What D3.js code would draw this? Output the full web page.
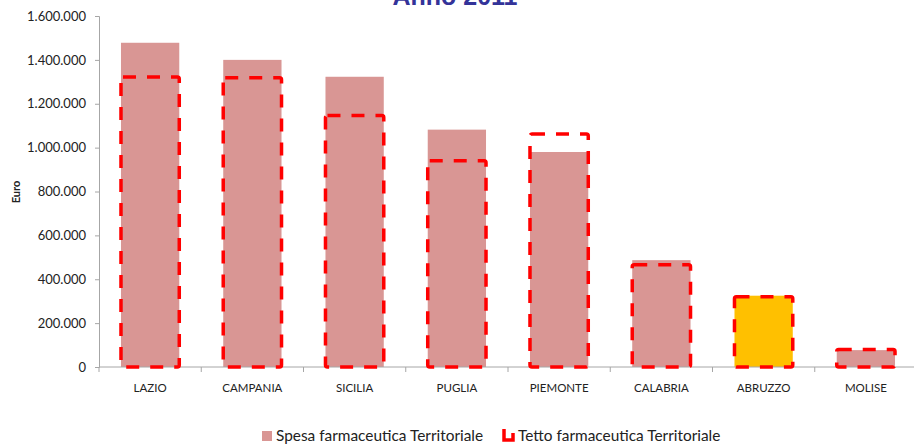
<!DOCTYPE html>
<html>
<head>
<meta charset="utf-8">
<script src="https://cdn.jsdelivr.net/npm/d3@7"></script>
<style>
  body { margin: 0; background: #fff; }
  svg { display: block; }
</style>
</head>
<body>
<div id="chart"></div>
<script>
// dati
var regioni = ['LAZIO','CAMPANIA','SICILIA','PUGLIA','PIEMONTE','CALABRIA','ABRUZZO','MOLISE']
var spesa = [1478000, 1400000, 1323000, 1082000, 980000, 487000, 325000, 77000]
var tetto = [1322000, 1319000, 1146000, 940000, 1062000, 466000, 320000, 80000]
var yTicks = [0, 200000, 400000, 600000, 800000, 1000000, 1200000, 1400000, 1600000]

var width = 914, height = 444
var margin = {top: 16, left: 99, bottom: 77}
var plotRight = 917

var svg = d3.select('#chart').append('svg')
  .attr('width', width)
  .attr('height', height)

var x = d3.scaleBand()
  .domain(regioni)
  .range([margin.left, plotRight])
  .paddingInner(0.43)
  .paddingOuter(0.215)

var y = d3.scaleLinear()
  .domain([0, 1600000])
  .range([height - margin.bottom, margin.top])

var fmt = function(v){
  return d3.format(',')(v).replace(/,/g, '.')
}

// titolo (tagliato in alto come nell'originale)
svg.append('text')
  .attr('x', 455)
  .attr('y', 5)
  .attr('text-anchor', 'middle')
  .attr('font-family', 'Liberation Sans, Arial, sans-serif')
  .attr('font-weight', 'bold')
  .attr('font-size', 25)
  .attr('fill', '#333399')
  .text('Anno 2011')

// asse y
var yAxis = svg.append('g')
  .attr('transform', 'translate(' + margin.left + ',0)')
  .call(d3.axisLeft(y).tickValues(yTicks).tickFormat(fmt).tickSizeOuter(0).tickSize(4).tickPadding(9))
yAxis.select('.domain').attr('stroke', '#a6a6a6')
yAxis.selectAll('.tick line').attr('stroke', '#a6a6a6')
yAxis.selectAll('text')
  .attr('font-family', 'Lato, Carlito, sans-serif')
  .attr('font-size', 13)
  .attr('fill', '#222')

svg.append('text')
  .attr('transform', 'translate(20,' + 192 + ') rotate(-90)')
  .attr('text-anchor', 'middle')
  .attr('font-family', 'Lato, sans-serif')
  .attr('font-weight', 'bold')
  .attr('font-size', 11)
  .attr('fill', '#222')
  .text('Euro')

// barre spesa
svg.selectAll('rect.spesa')
  .data(regioni)
  .enter()
  .append('rect')
  .attr('class', 'spesa')
  .attr('x', function(d){ return x(d) })
  .attr('width', x.bandwidth())
  .attr('y', function(d,i){ return y(spesa[i]) })
  .attr('height', function(d,i){ return y(0) - y(spesa[i]) })
  .attr('fill', function(d){ return d == 'ABRUZZO' ? '#FFC000' : '#D99694' })

// asse x
var step = x.step()
var xAxis = svg.append('g')
  .attr('transform', 'translate(0,' + y(0) + ')')
xAxis.append('line')
  .attr('x1', margin.left).attr('x2', plotRight)
  .attr('stroke', '#a6a6a6')
xAxis.selectAll('line.tk')
  .data(d3.range(regioni.length + 1))
  .enter()
  .append('line')
  .attr('class', 'tk')
  .attr('x1', function(i){ return margin.left + i*step })
  .attr('x2', function(i){ return margin.left + i*step })
  .attr('y1', 0).attr('y2', 5)
  .attr('stroke', '#a6a6a6')
xAxis.selectAll('text')
  .data(regioni)
  .enter()
  .append('text')
  .attr('x', function(d){ return x(d) + x.bandwidth()/2 })
  .attr('y', 25)
  .attr('text-anchor', 'middle')
  .attr('font-family', 'Lato, sans-serif')
  .attr('font-size', 11.5)
  .attr('fill', '#222')
  .text(function(d){ return d })

// tetto (rettangoli tratteggiati)
svg.selectAll('rect.tetto')
  .data(regioni)
  .enter()
  .append('rect')
  .attr('class', 'tetto')
  .attr('x', function(d){ return x(d) })
  .attr('width', x.bandwidth())
  .attr('y', function(d,i){ return y(tetto[i]) })
  .attr('height', function(d,i){ return y(0) - y(tetto[i]) })
  .attr('rx', 2)
  .attr('fill', 'none')
  .attr('stroke', '#FF0000')
  .attr('stroke-width', 3.5)
  .attr('stroke-dasharray', '13,11')

// legenda
var leg = svg.append('g').attr('font-family', 'Lato, sans-serif').attr('font-size', 15.4).attr('fill', '#222')
leg.append('rect')
  .attr('x', 262).attr('y', 431).attr('width', 10).attr('height', 10)
  .attr('fill', '#D99694')
leg.append('text').attr('x', 276).attr('y', 441).text('Spesa farmaceutica Territoriale')
leg.append('path')
  .attr('d', 'M504,429 V440 H513 V433')
  .attr('fill', 'none')
  .attr('stroke', '#FF0000')
  .attr('stroke-width', 3.5)
leg.append('text').attr('x', 518).attr('y', 441).text('Tetto farmaceutica Territoriale')
</script>
</body>
</html>
